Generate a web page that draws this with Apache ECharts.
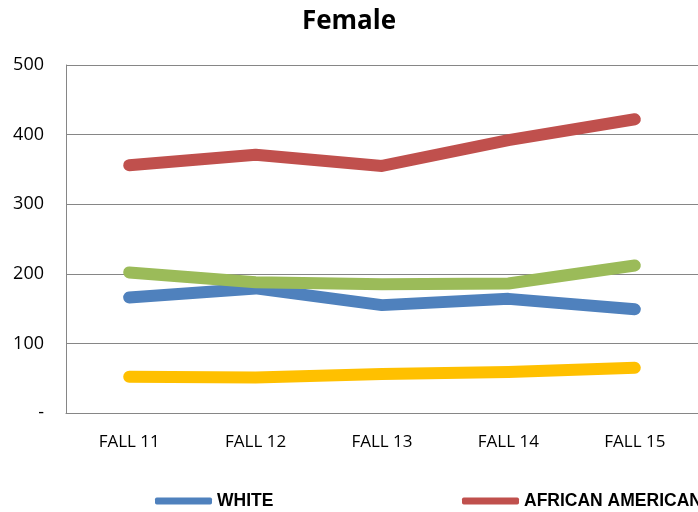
<!DOCTYPE html>
<html>
<head>
<meta charset="utf-8">
<script src="https://cdn.jsdelivr.net/npm/echarts@6/dist/echarts.min.js"></script>
<style>
  html, body { margin: 0; padding: 0; background: #fff; }
</style>
</head>
<body>
<div id="main" style="width:698px;height:512px;"></div>
<script>
// terms
const terms = ['FALL 11', 'FALL 12', 'FALL 13', 'FALL 14', 'FALL 15']
// series values
const white = [166, 179, 155, 164, 149]
const africanAmerican = [356, 371, 355, 392, 422]
const hispanic = [202, 188, 185, 186, 212]
const other = [52, 51, 56, 59, 65]
// y ticks
const yTicks = [0, 100, 200, 300, 400, 500]

const chart = echarts.init(document.getElementById('main'))

const lineSeries = (name, data, color) => ({
    name: name,
    type: 'line',
    data: data,
    symbol: 'none',
    lineStyle: { width: 12, color: color, cap: 'round', join: 'round' },
    itemStyle: { color: color }
})

const legendText = {
    fontFamily: 'Liberation Sans, sans-serif',
    fontWeight: 'bold',
    fontSize: 17.5,
    color: '#000'
}

const option = {
    animation: false,
    title: {
        text: 'Female',
        left: 'center',
        top: 4,
        textStyle: { fontFamily: 'Open Sans, sans-serif', fontWeight: 'bold', fontSize: 26, color: '#000' }
    },
    legend: [
        {
            data: ['WHITE'], left: 150, top: 487,
            icon: 'roundRect', itemWidth: 57, itemHeight: 7, itemGap: 3,
            textStyle: legendText
        },
        {
            data: ['AFRICAN AMERICAN'], left: 457, top: 487,
            icon: 'roundRect', itemWidth: 57, itemHeight: 7, itemGap: 3,
            textStyle: legendText
        }
    ],
    grid: { left: 66, right: 0, top: 65, bottom: 99 },
    xAxis: {
        type: 'category',
        data: terms,
        boundaryGap: true,
        axisLine: { lineStyle: { color: '#868686', width: 1 } },
        axisTick: { show: false },
        axisLabel: { color: '#000', fontSize: 17, margin: 21, fontFamily: 'Open Sans, sans-serif' }
    },
    yAxis: {
        type: 'value',
        min: 0,
        max: 500,
        interval: 100,
        axisLine: { show: true, lineStyle: { color: '#868686', width: 1 } },
        axisTick: { show: false },
        splitLine: { lineStyle: { color: '#868686', width: 1 } },
        axisLabel: {
            color: '#000', fontSize: 18, margin: 22, fontFamily: 'Open Sans, sans-serif',
            formatter: v => (v === yTicks[0] ? '-' : String(v))
        }
    },
    series: [
        lineSeries('WHITE', white, '#4F81BD'),
        lineSeries('AFRICAN AMERICAN', africanAmerican, '#C0504D'),
        lineSeries('HISPANIC', hispanic, '#9BBB59'),
        lineSeries('OTHER', other, '#FFC000')
    ]
}

chart.setOption(option)
</script>
</body>
</html>
